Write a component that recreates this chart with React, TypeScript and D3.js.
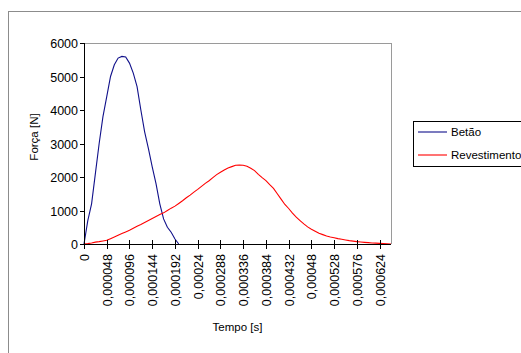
import * as d3 from "d3";

// time step between samples [s]
const timeStep = 0.000008;

// Betão force [N], one value per time step from t = 0
const betaoForce = [
  0, 700, 1200, 2100, 3000, 3800, 4400, 5000, 5350, 5550,
  5600, 5580, 5400, 5100, 4700, 4000, 3350, 2850, 2300, 1800,
  1200, 750, 500, 350, 150, 0,
];

// Revestimento force [N], one value per time step from t = 0
const revestimentoForce = [
  0, 10, 30, 55, 70, 90, 110, 160, 210, 260,
  310, 360, 410, 470, 530, 580, 640, 700, 760, 820,
  880, 930, 1000, 1070, 1130, 1210, 1290, 1380, 1460, 1550,
  1630, 1720, 1810, 1890, 1980, 2070, 2140, 2210, 2270, 2310,
  2350, 2360, 2350, 2320, 2260, 2190, 2080, 1980, 1890, 1770,
  1660, 1500, 1340, 1180, 1060, 920, 800, 700, 600, 510,
  440, 380, 320, 280, 240, 210, 185, 160, 140, 120,
  100, 85, 70, 58, 48, 40, 32, 25, 18, 12,
  6, 0,
];

const xTickLabels = [
  "0", "0,000048", "0,000096", "0,000144", "0,000192", "0,00024", "0,000288",
  "0,000336", "0,000384", "0,000432", "0,00048", "0,000528", "0,000576", "0,000624",
];
const xTickStep = 0.000048;
const yTicks = [0, 1000, 2000, 3000, 4000, 5000, 6000];

const seriesNames = ["Betão", "Revestimento"];
const seriesColors = ["#10108a", "#ff0000"];

const FONT = "'Liberation Sans', Arial, sans-serif";

export default function App() {
  const width = 521;
  const height = 353;
  const plot = { left: 84, right: 391, top: 43, bottom: 244 };

  const tMax = (revestimentoForce.length - 1) * timeStep;
  const x = d3.scaleLinear().domain([0, tMax]).range([plot.left, plot.right]);
  const y = d3.scaleLinear().domain([0, 6000]).range([plot.bottom, plot.top]);

  const line = d3
    .line<number>()
    .x((_, i) => x(i * timeStep))
    .y((d) => y(d));

  const series = [betaoForce, revestimentoForce];

  return (
    <div style={{ position: "fixed", left: 0, top: 0 }}>
      <svg width={width} height={height} style={{ display: "block", background: "#fff" }} fontFamily={FONT}>
        {/* chart area border */}
        <rect x={8.5} y={11.5} width={700} height={500} fill="none" stroke="#8c8c8c" strokeWidth={1} />

        {/* plot area border (top/right) */}
        <line x1={plot.left} x2={plot.right + 0.5} y1={plot.top + 0.5} y2={plot.top + 0.5} stroke="#9a9a9a" />
        <line x1={plot.right + 0.5} x2={plot.right + 0.5} y1={plot.top} y2={plot.bottom} stroke="#9a9a9a" />

        {/* series */}
        {series.map((s, k) => (
          <path key={k} d={line(s) ?? ""} fill="none" stroke={seriesColors[k]} strokeWidth={1.1} />
        ))}

        {/* y axis */}
        <line x1={plot.left + 0.5} x2={plot.left + 0.5} y1={plot.top} y2={plot.bottom} stroke="#000" />
        {yTicks.map((v) => (
          <g key={v} transform={`translate(0,${Math.round(y(v)) + 0.5})`}>
            <line x1={plot.left - 4} x2={plot.left} stroke="#000" />
            <text x={plot.left - 6} dy="0.35em" textAnchor="end" fontSize={12.5} fill="#000">
              {v}
            </text>
          </g>
        ))}

        {/* x axis */}
        <line x1={plot.left} x2={plot.right} y1={plot.bottom + 0.5} y2={plot.bottom + 0.5} stroke="#000" />
        {xTickLabels.map((lab, i) => {
          const px = Math.round(x(i * xTickStep)) + 0.5;
          return (
            <g key={lab} transform={`translate(${px},0)`}>
              <line y1={plot.bottom - 4} y2={plot.bottom + 5} stroke="#000" />
              <text
                transform={`translate(0,${plot.bottom + 10}) rotate(-90)`}
                dy="0.35em"
                textAnchor="end"
                fontSize={12.5}
                fill="#000"
              >
                {lab}
              </text>
            </g>
          );
        })}

        {/* axis titles */}
        <text x={(plot.left + plot.right) / 2} y={331} textAnchor="middle" fontSize={11.5} fill="#000">
          Tempo [s]
        </text>
        <text transform={`translate(38,137) rotate(-90)`} textAnchor="middle" fontSize={11.5} fill="#000">
          Força [N]
        </text>

        {/* legend */}
        <rect x={413.5} y={121.5} width={200} height={45} fill="#fff" stroke="#000" />
        {seriesNames.map((name, k) => (
          <g key={name} transform={`translate(418,${132 + k * 23})`}>
            <line x1={0} x2={29} stroke={seriesColors[k]} strokeWidth={1.1} />
            <text x={33} dy="0.35em" fontSize={11.5} fill="#000">
              {name}
            </text>
          </g>
        ))}
      </svg>
    </div>
  );
}
